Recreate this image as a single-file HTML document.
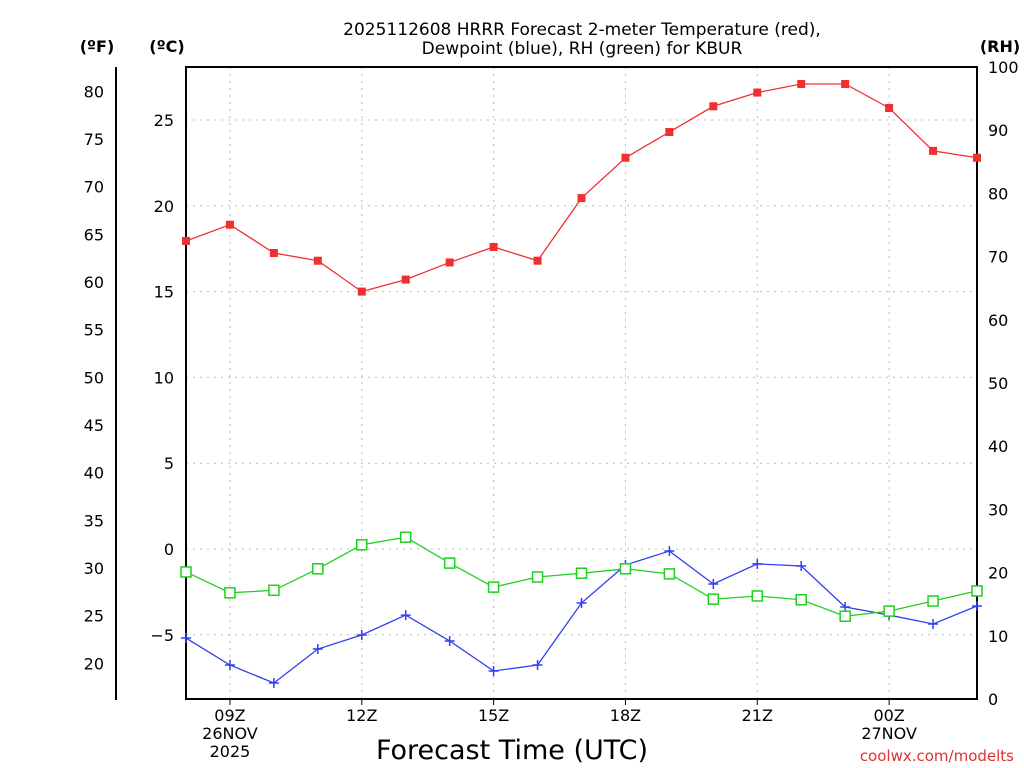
<!DOCTYPE html>
<html><head><meta charset="utf-8"><style>
body{margin:0;background:#fff;}
svg{display:block;font-family:"DejaVu Sans","Liberation Sans",sans-serif;}
</style></head><body>
<svg id="chart" width="1024" height="768" xmlns="http://www.w3.org/2000/svg">
<text x="582" y="35" text-anchor="middle" font-size="17">2025112608 HRRR Forecast 2-meter Temperature (red),</text>
<text x="582" y="54" text-anchor="middle" font-size="17">Dewpoint (blue), RH (green) for KBUR</text>
<text x="97" y="52" text-anchor="middle" font-size="16" font-weight="bold">(ºF)</text>
<text x="167" y="52" text-anchor="middle" font-size="16" font-weight="bold">(ºC)</text>
<text x="1000" y="52" text-anchor="middle" font-size="16" font-weight="bold">(RH)</text>
<text x="512" y="759" text-anchor="middle" font-size="27">Forecast Time (UTC)</text>
<text x="1014" y="761" text-anchor="end" font-size="15" fill="#e03030">coolwx.com/modelts</text>
<g id="grid"></g><g id="axes"></g><g id="series"></g>
</svg>
<script>
const hours=[8,9,10,11,12,13,14,15,16,17,18,19,20,21,22,23,24,25,26];
const tempC=[17.95,18.9,17.25,16.8,15.0,15.7,16.7,17.6,16.8,20.45,22.8,24.3,25.8,26.6,27.1,27.1,25.7,23.2,22.8];
const dewC=[-5.19,-6.76,-7.81,-5.83,-5.01,-3.85,-5.36,-7.11,-6.76,-3.15,-0.93,-0.12,-2.04,-0.87,-0.99,-3.38,-3.85,-4.37,-3.32];
const rh=[20.1,16.8,17.2,20.6,24.4,25.6,21.5,17.7,19.3,19.9,20.6,19.8,15.8,16.3,15.7,13.1,13.9,15.5,17.1];
const cTicks=[-5,0,5,10,15,20,25];
const fTicks=[20,25,30,35,40,45,50,55,60,65,70,75,80];
const rhTicks=[0,10,20,30,40,50,60,70,80,90,100];
const xTicks=[{h:9,l:["09Z","26NOV","2025"]},{h:12,l:["12Z"]},{h:15,l:["15Z"]},{h:18,l:["18Z"]},{h:21,l:["21Z"]},{h:24,l:["00Z","27NOV"]}];
const L=186,R=977,T=67,B=699,NS="http://www.w3.org/2000/svg";
const x=h=>L+(h-8)*(R-L)/18;
const yC=c=>549-c*17.16;
const yF=f=>yC((f-32)*5/9);
const yR=v=>B-v*(B-T)/100;
function mk(tag,at,parent){const e=document.createElementNS(NS,tag);for(const k in at)e.setAttribute(k,at[k]);document.getElementById(parent).appendChild(e);return e;}
function txt(s,at,parent){const e=mk('text',at,parent);e.textContent=s;return e;}
// grid
cTicks.forEach(c=>{const g=mk('line',{x1:L,x2:R,y1:yC(c),y2:yC(c),stroke:'#bbb','stroke-dasharray':'2,5'},'grid');

});
xTicks.forEach(t=>{const g=mk('line',{x1:x(t.h),x2:x(t.h),y1:T,y2:B,stroke:'#bbb','stroke-dasharray':'2,5'},'grid');

});
// axes
const fr=mk('rect',{x:L,y:T,width:R-L,height:B-T,fill:'none',stroke:'#000','stroke-width':2},'axes');


const fa=mk('line',{x1:116,x2:116,y1:T,y2:700,stroke:'#000','stroke-width':2},'axes');


cTicks.forEach(c=>{const t=txt(c<0?'\u2212'+(-c):String(c),{x:174,y:yC(c)+6,'text-anchor':'end','font-size':16},'axes');

});
fTicks.forEach(f=>{const t=txt(String(f),{x:104,y:yF(f)+6,'text-anchor':'end','font-size':16},'axes');

});
rhTicks.forEach(v=>{const t=txt(String(v),{x:988,y:yR(v)+6,'font-size':16},'axes');

});
xTicks.forEach(t=>{const tk=mk('line',{x1:x(t.h),x2:x(t.h),y1:B,y2:B+6,stroke:'#000'},'axes');


t.l.forEach((s,i)=>{const e=txt(s,{x:x(t.h),y:B+22+i*18,'text-anchor':'middle','font-size':16},'axes');

});});
// series
function line(vals,yf,col,name){const p=mk('polyline',{points:vals.map((v,i)=>x(hours[i])+','+yf(v)).join(' '),fill:'none',stroke:col,'stroke-width':1.3},'series');

}
line(tempC,yC,'#f03030','temperature');
line(dewC,yC,'#3040f0','dewpoint');
line(rh,yR,'#20d020','rh');
tempC.forEach((v,i)=>{const m=mk('rect',{x:x(hours[i])-4,y:yC(v)-4,width:8,height:8,fill:'#f03030'},'series');

});
dewC.forEach((v,i)=>{const cx=x(hours[i]),cy=yC(v);const m=mk('path',{d:`M${cx-5},${cy}H${cx+5}M${cx},${cy-5}V${cy+5}`,stroke:'#3040f0','stroke-width':1.5},'series');

});
rh.forEach((v,i)=>{const m=mk('rect',{x:x(hours[i])-5,y:yR(v)-5,width:10,height:10,fill:'#fff',stroke:'#20d020','stroke-width':1.5},'series');

});
</script>
</body></html>
